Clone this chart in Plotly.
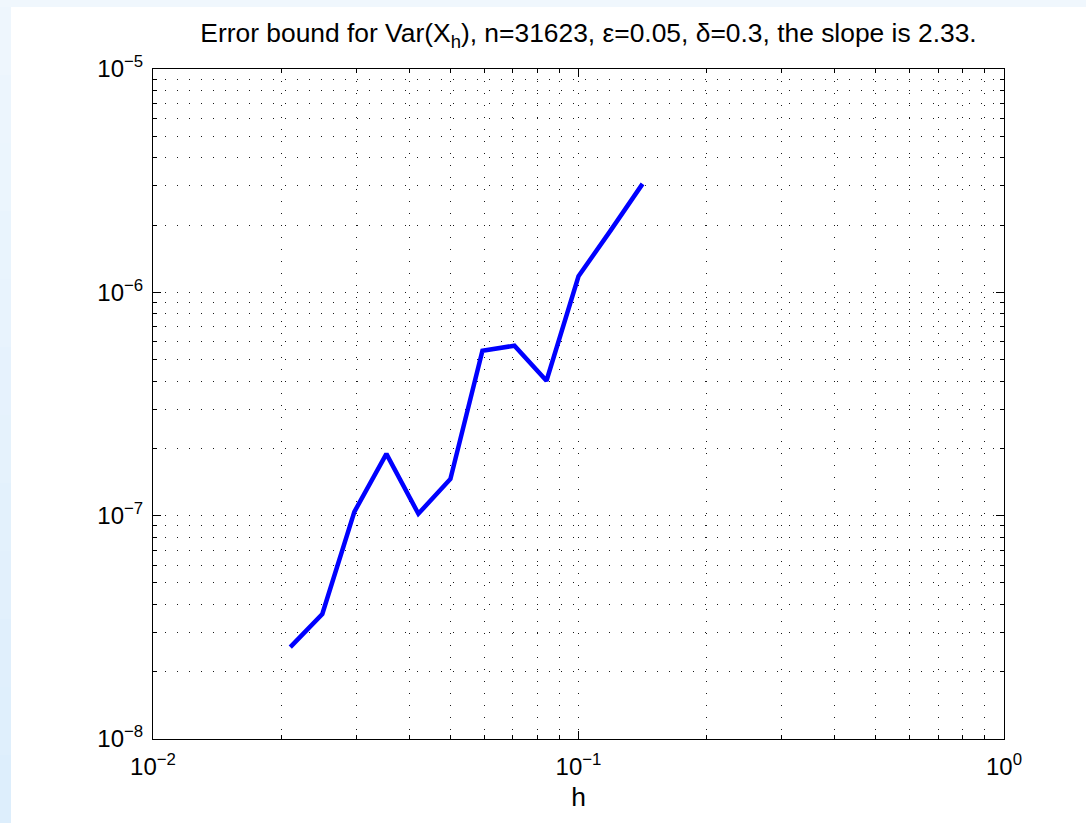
import numpy as np
import plotly.graph_objects as go

# step sizes h and the corresponding error bound for Var(X_h)
h_vals = [0.02102, 0.02500, 0.02973, 0.03536, 0.04204, 0.05000,
          0.05946, 0.07071, 0.08409, 0.10000, 0.11892, 0.14142]
err_vals = [2.58e-8, 3.63e-8, 1.04e-7, 1.89e-7, 1.02e-7, 1.46e-7,
            5.48e-7, 5.77e-7, 4.02e-7, 1.18e-6, 1.89e-6, 3.06e-6]

x_major = [0.01, 0.1, 1.0]
x_major_text = ["10<sup>−2</sup>", "10<sup>−1</sup>", "10<sup>0</sup>"]
y_major = [1e-8, 1e-7, 1e-6, 1e-5]
y_major_text = ["10<sup>−8</sup>", "10<sup>−7</sup>", "10<sup>−6</sup>", "10<sup>−5</sup>"]

title_text = ("Error bound for Var(X<sub>h</sub>), n=31623, ε=0.05, "
              "δ=0.3, the slope is 2.33.")

FONT = "Liberation Sans, Arial, Helvetica, sans-serif"
TICK_SIZE = 24
LABEL_SIZE = 26.4

def minor_vals(lo_exp, hi_exp):
    vals = []
    for e in range(lo_exp, hi_exp):
        for m in range(2, 10):
            vals.append(m * 10.0 ** e)
    return vals

grid_style = dict(showgrid=True, gridcolor="#1a1a1a", gridwidth=1, griddash="1px,11px")

fig = go.Figure()
fig.add_trace(go.Scatter(
    x=h_vals, y=err_vals, mode="lines",
    line=dict(color="#0000ff", width=4.5),
    showlegend=False, hoverinfo="skip",
))

axis_common = dict(
    type="log",
    showline=True, linecolor="black", linewidth=1,
    mirror="allticks", ticks="inside", ticklen=8, tickcolor="black",
    tickfont=dict(family=FONT, size=TICK_SIZE, color="black"),
    zeroline=False,
    tickmode="array",
    **grid_style,
)

fig.update_xaxes(
    range=[-2, 0],
    tickvals=x_major, ticktext=x_major_text,
    ticklabelstandoff=6,
    title=dict(text="h", font=dict(family=FONT, size=LABEL_SIZE, color="black"), standoff=8),
    minor=dict(tickmode="array", tickvals=minor_vals(-2, 0), ticks="inside",
               ticklen=4, tickcolor="black", **grid_style),
    **axis_common,
)
fig.update_yaxes(
    range=[-8, -5],
    tickvals=y_major, ticktext=y_major_text,
    ticklabelstandoff=4,
    minor=dict(tickmode="array", tickvals=minor_vals(-8, -5), ticks="inside",
               ticklen=4, tickcolor="black", **grid_style),
    **axis_common,
)

# light blue frame strips along the top and left edges of the window
L, R, T, B = 153, 82, 69, 84
W, H = 1086, 823
pw, ph = W - L - R, H - T - B

def px_to_paper_x(px):
    return (px - L) / pw

def py_to_paper_y(py):
    return (H - B - py) / ph

shapes = [dict(type="rect", xref="paper", yref="paper",
               x0=px_to_paper_x(0), x1=px_to_paper_x(W),
               y0=py_to_paper_y(0), y1=py_to_paper_y(7),
               fillcolor="#f0f7fd", line=dict(width=0), layer="below")]
n_bands = 12
for i in range(n_bands):
    y0 = 7 + (H - 7) * i / n_bands
    y1 = 7 + (H - 7) * (i + 1) / n_bands
    t = i / (n_bands - 1)
    r = int(round(0xee + (0xdd - 0xee) * t))
    g = int(round(0xf6 + (0xee - 0xf6) * t))
    b = int(round(0xfd + (0xfc - 0xfd) * t))
    shapes.append(dict(type="rect", xref="paper", yref="paper",
                       x0=px_to_paper_x(0), x1=px_to_paper_x(11),
                       y0=py_to_paper_y(y0), y1=py_to_paper_y(y1),
                       fillcolor=f"rgb({r},{g},{b})", line=dict(width=0),
                       layer="below"))

fig.update_layout(
    width=W, height=H,
    margin=dict(l=L, r=R, t=T, b=B),
    paper_bgcolor="white", plot_bgcolor="white",
    title=dict(text=title_text, x=0.5 + 10 / pw, xref="paper", xanchor="center",
               y=1 - 33 / H, yref="container", yanchor="middle",
               font=dict(family=FONT, size=LABEL_SIZE, color="black")),
    shapes=shapes,
)

fig.write_html("out.html")
